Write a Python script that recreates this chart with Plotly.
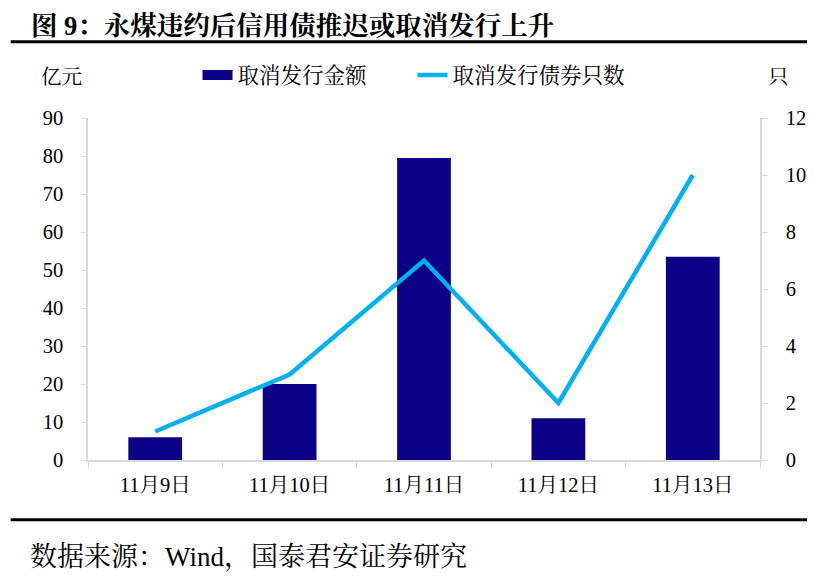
import plotly.graph_objects as go

# ---- data ----
dates = ["11月9日", "11月10日", "11月11日", "11月12日", "11月13日"]
cancel_amount = [6, 20, 79.5, 11, 53.5]      # 亿元
cancel_count = [1, 3, 7, 2, 10]              # 只

left_ticks = [0, 10, 20, 30, 40, 50, 60, 70, 80, 90]
right_ticks = [0, 2, 4, 6, 8, 10, 12]

FONT = "Liberation Serif, Times New Roman, Noto Serif CJK SC, Noto Sans CJK SC, serif"
AXIS_GREY = "#D9D9D9"
BAR_COLOR = "#0C0087"
LINE_COLOR = "#00B0F0"

fig = go.Figure()

fig.add_trace(go.Bar(
    x=dates, y=cancel_amount,
    name="取消发行金额",
    marker=dict(color=BAR_COLOR, line=dict(width=0)),
    showlegend=False,
    yaxis="y",
))
# legend entry drawn as a wide block, like the original
fig.add_trace(go.Scatter(
    x=[None], y=[None], name="取消发行金额", mode="lines",
    line=dict(color=BAR_COLOR, width=10),
    yaxis="y",
))
fig.add_trace(go.Scatter(
    x=dates, y=cancel_count,
    name="取消发行债券只数",
    mode="lines",
    line=dict(color=LINE_COLOR, width=4.5),
    yaxis="y2",
))

# page body has an 8px margin, so the figure is 8px smaller on each side
fig.update_layout(
    width=807, height=574,
    margin=dict(l=80, r=55, t=110, b=122, autoexpand=False),
    paper_bgcolor="white", plot_bgcolor="white",
    font=dict(family=FONT, size=20, color="black"),
    bargap=0.6,
    showlegend=True,
    legend=dict(
        orientation="h", x=0.163, xanchor="left", y=1.126, yanchor="middle",
        font=dict(size=21.5), tracegroupgap=0, itemwidth=30,
        entrywidth=170,
    ),
    xaxis=dict(
        type="category",
        showline=True, linecolor=AXIS_GREY, linewidth=1.5,
        ticks="outside", tickson="boundaries", ticklen=6, tickcolor=AXIS_GREY,
        showgrid=False,
        tickfont=dict(size=20.5),
        ticklabelstandoff=6,
    ),
    yaxis=dict(
        range=[0, 90], tickvals=left_ticks,
        showline=True, linecolor=AXIS_GREY, linewidth=1.5,
        ticks="outside", ticklen=5, tickcolor=AXIS_GREY,
        showgrid=False, zeroline=False,
        tickfont=dict(size=20.5),
        ticklabelstandoff=14,
    ),
    yaxis2=dict(
        range=[0, 12], tickvals=right_ticks,
        overlaying="y", side="right",
        showline=True, linecolor=AXIS_GREY, linewidth=1.5,
        ticks="outside", ticklen=6, tickcolor=AXIS_GREY,
        showgrid=False, zeroline=False,
        tickfont=dict(size=20.5),
        ticklabelstandoff=14,
    ),
)

# title, units and source text
fig.add_annotation(
    text="<b>图 9：永煤违约后信用债推迟或取消发行上升</b>",
    xref="paper", yref="paper", x=-0.087, y=1.269,
    xanchor="left", yanchor="middle", showarrow=False, borderpad=0,
    font=dict(size=26.5, family=FONT),
)
fig.add_annotation(
    text="亿元", xref="paper", yref="paper", x=-0.04, y=1.12,
    xanchor="center", yanchor="middle", showarrow=False, font=dict(size=20.5),
)
fig.add_annotation(
    text="只", xref="paper", yref="paper", x=1.028, y=1.12,
    xanchor="center", yanchor="middle", showarrow=False, font=dict(size=20.5),
)
fig.add_annotation(
    text="数据来源：Wind，国泰君安证券研究",
    xref="paper", yref="paper", x=-0.089, y=-0.283,
    xanchor="left", yanchor="middle", showarrow=False, font=dict(size=27),
)

# rule lines above and below the chart
fig.add_shape(type="line", xref="paper", yref="paper", x0=-0.115, x1=1.09,
              y0=1.223, y1=1.223, line=dict(color="black", width=3))
fig.add_shape(type="line", xref="paper", yref="paper", x0=-0.115, x1=1.09,
              y0=-0.175, y1=-0.175, line=dict(color="black", width=3))

fig.write_html("out.html")
